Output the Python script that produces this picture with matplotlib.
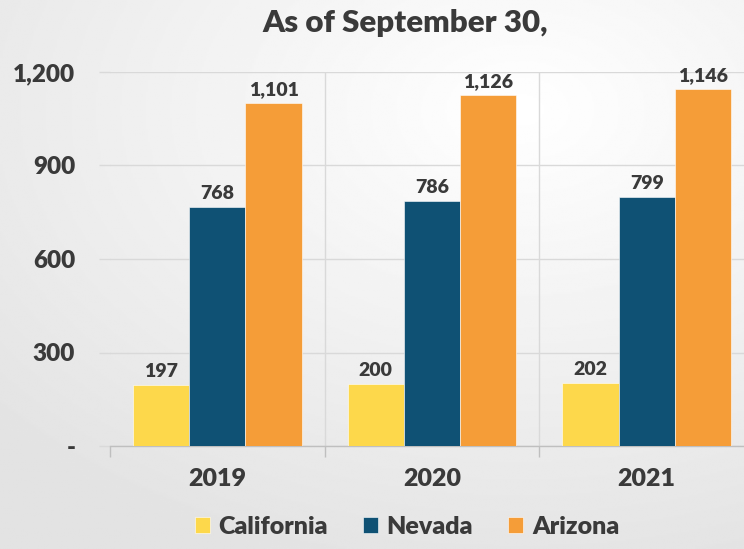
import numpy as np
import matplotlib
matplotlib.use("Agg")
import matplotlib.pyplot as plt
from matplotlib.ticker import FuncFormatter

years = ["2019", "2020", "2021"]
series_names = ["California", "Nevada", "Arizona"]
california = [197, 200, 202]
nevada = [768, 786, 799]
arizona = [1101, 1126, 1146]
colors = ["#FDD84B", "#0F5174", "#F59D38"]
yticks = [0, 300, 600, 900, 1200]
title = "As of September 30,"

plt.rcParams['font.family'] = ['Lato', 'DejaVu Sans']
TXT = "#3A3A3A"
GRID = "#D9D9D9"
WEIGHT = "heavy"

fig = plt.figure(figsize=(7.44, 5.49), dpi=100)

# background gradient
bg = fig.add_axes([0, 0, 1, 1], zorder=-10)
yy, xx = np.mgrid[0:1:300j, 0:1:400j]
d = np.sqrt(((xx - 0.7) * 1.0) ** 2 + ((yy - 0.2) * 1.1) ** 2)
val = 1.0 - 0.11 * np.clip(d / 0.95, 0, 1)
bg.imshow(val, cmap="gray", vmin=0, vmax=1, aspect="auto", extent=[0, 1, 1, 0])
bg.set_axis_off()

ax = fig.add_axes([110 / 744, 1 - 446 / 549, 644 / 744, (446 - 72) / 549])
ax.patch.set_alpha(0)

x = np.arange(len(years))
w = 0.262
for i, (vals, c) in enumerate(zip([california, nevada, arizona], colors)):
    pos = x + (i - 1) * w
    ax.bar(pos, vals, width=w, color=c, label=series_names[i], zorder=3,
           edgecolor="white", linewidth=0.4)
    for p, v in zip(pos, vals):
        ax.text(p, v + 16, f"{v:,}", ha="center", va="bottom", fontsize=14,
                fontweight=WEIGHT, color=TXT, zorder=4)

ax.set_xlim(-0.5, 2.5)
ax.set_ylim(0, 1200)
ax.set_yticks(yticks)
ax.yaxis.set_major_formatter(FuncFormatter(lambda v, p: "-" if v == 0 else f"{int(v):,}"))
ax.grid(axis="y", color=GRID, linewidth=1, zorder=0)
for b in [0.5, 1.5]:
    ax.axvline(b, color=GRID, linewidth=1, zorder=0)

ax.set_xticks(x)
ax.set_xticklabels(years)
ax.set_xticks([-0.5, 0.5, 1.5, 2.5], minor=True)
ax.tick_params(axis="x", which="major", length=0, pad=16, labelsize=18, labelcolor=TXT)
ax.tick_params(axis="x", which="minor", length=8, color="#BFBFBF", width=1)
ax.tick_params(axis="y", length=8, color=GRID, width=1, pad=17, labelsize=17.5, labelcolor=TXT)
for lbl in ax.get_xticklabels() + ax.get_yticklabels():
    lbl.set_fontweight(WEIGHT)

for s in ["top", "right", "left"]:
    ax.spines[s].set_visible(False)
ax.spines["bottom"].set_color("#BFBFBF")
ax.spines["bottom"].set_linewidth(1)

fig.text(405 / 744, 1 - 23 / 549, title, ha="center", va="center", fontsize=22.5,
         fontweight=WEIGHT, color=TXT)

leg = fig.legend(loc="center", bbox_to_anchor=(407 / 744, 1 - 527 / 549), ncol=3,
                 frameon=False, prop={"size": 18, "weight": WEIGHT},
                 handlelength=0.6, handleheight=0.6, handletextpad=0.35, columnspacing=1.4)
for t in leg.get_texts():
    t.set_color(TXT)

fig.savefig("out.png", dpi=100)
